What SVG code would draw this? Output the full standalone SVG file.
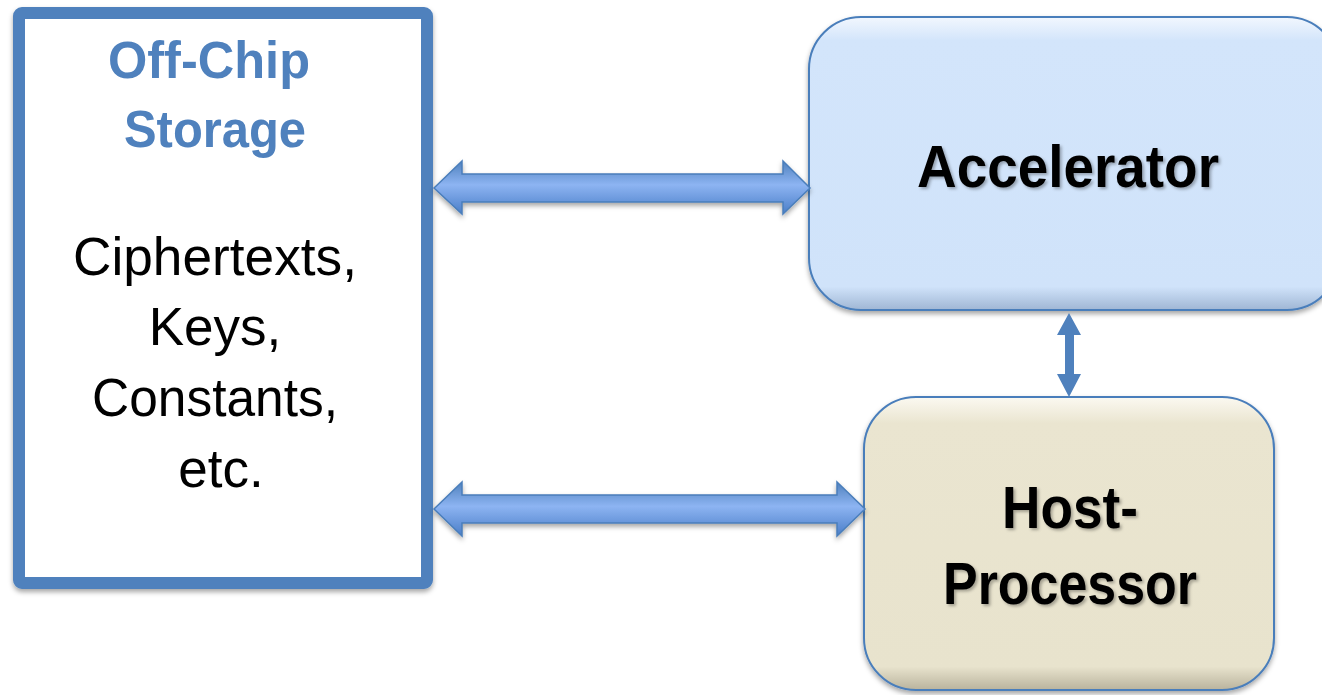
<svg xmlns="http://www.w3.org/2000/svg" width="1322" height="695" viewBox="0 0 1322 695">
<style>
.title{font-family:"Liberation Sans",Arial,sans-serif;font-weight:bold;fill:#4F81BD;font-size:52px;text-anchor:middle}
.body{font-family:"Liberation Sans",Arial,sans-serif;fill:#000;font-size:53px;text-anchor:middle}
.lbl{font-family:"Liberation Sans",Arial,sans-serif;font-weight:bold;fill:#000;font-size:60px;text-anchor:middle;filter:url(#tshadow)}
.harrow{fill:url(#hgrad);stroke:#4A7EBB;stroke-width:1.5;stroke-linejoin:miter;filter:url(#shadow)}
</style>
<defs>
<linearGradient id="hgrad" x1="0" y1="0" x2="0" y2="1">
<stop offset="0" stop-color="#4F81BD"/>
<stop offset="0.45" stop-color="#8DB4F2"/>
<stop offset="1" stop-color="#4A7EC8"/>
</linearGradient>
<linearGradient id="accFill" x1="0" y1="0" x2="0" y2="1">
<stop offset="0" stop-color="#F2F7FE"/>
<stop offset="0.08" stop-color="#D3E5FB"/>
<stop offset="0.92" stop-color="#D0E3FA"/>
<stop offset="1" stop-color="#9FB6D4"/>
</linearGradient>
<linearGradient id="hostFill" x1="0" y1="0" x2="0" y2="1">
<stop offset="0" stop-color="#FBF9F1"/>
<stop offset="0.09" stop-color="#EAE5D0"/>
<stop offset="0.92" stop-color="#E8E3CD"/>
<stop offset="1" stop-color="#B9B39D"/>
</linearGradient>
<filter id="shadow" x="-10%" y="-10%" width="120%" height="130%">
<feDropShadow dx="0" dy="3" stdDeviation="2.5" flood-color="#000" flood-opacity="0.35"/>
</filter>
<filter id="tshadow" x="-10%" y="-10%" width="120%" height="130%">
<feDropShadow dx="2" dy="2" stdDeviation="1.5" flood-color="#000" flood-opacity="0.3"/>
</filter>
</defs>

<g id="offchip">
<rect x="19" y="13" width="408" height="570" rx="3" fill="#FFFFFF" stroke="#4F81BD" stroke-width="12" filter="url(#shadow)"/>
<text class="title" x="209" y="78" textLength="202" lengthAdjust="spacingAndGlyphs">Off-Chip</text>
<text class="title" x="215" y="147" textLength="182" lengthAdjust="spacingAndGlyphs">Storage</text>
<text class="body" x="215" y="275" textLength="284" lengthAdjust="spacingAndGlyphs">Ciphertexts,</text>
<text class="body" x="215" y="345">Keys,</text>
<text class="body" x="215" y="416" textLength="246" lengthAdjust="spacingAndGlyphs">Constants,</text>
<text class="body" x="221" y="487">etc.</text>
</g>

<g id="accelerator">
<rect x="809" y="17" width="530" height="293" rx="52" fill="url(#accFill)" stroke="#4A7EBB" stroke-width="2" filter="url(#shadow)"/>
<text class="lbl" x="1068" y="187" textLength="302" lengthAdjust="spacingAndGlyphs">Accelerator</text>
</g>

<g id="host">
<rect x="864" y="397" width="410" height="293" rx="52" fill="url(#hostFill)" stroke="#4A7EBB" stroke-width="2" filter="url(#shadow)"/>
<text class="lbl" x="1070" y="528" textLength="136" lengthAdjust="spacingAndGlyphs">Host-</text>
<text class="lbl" x="1070" y="604" textLength="254" lengthAdjust="spacingAndGlyphs">Processor</text>
</g>

<g id="connectors">
<polygon class="harrow" points="434,188 462,161 462,174 783,174 783,161 810,188 783,214 783,202 462,202 462,214"/>
<polygon class="harrow" points="434,509 462,482 462,495 837,495 837,482 865,509 837,536 837,523 462,523 462,536"/>
<polygon fill="#4F81BD" points="1069,313 1081,335 1074,335 1074,374 1081,374 1069,397 1057,374 1065,374 1065,335 1057,335"/>
</g>
</svg>
